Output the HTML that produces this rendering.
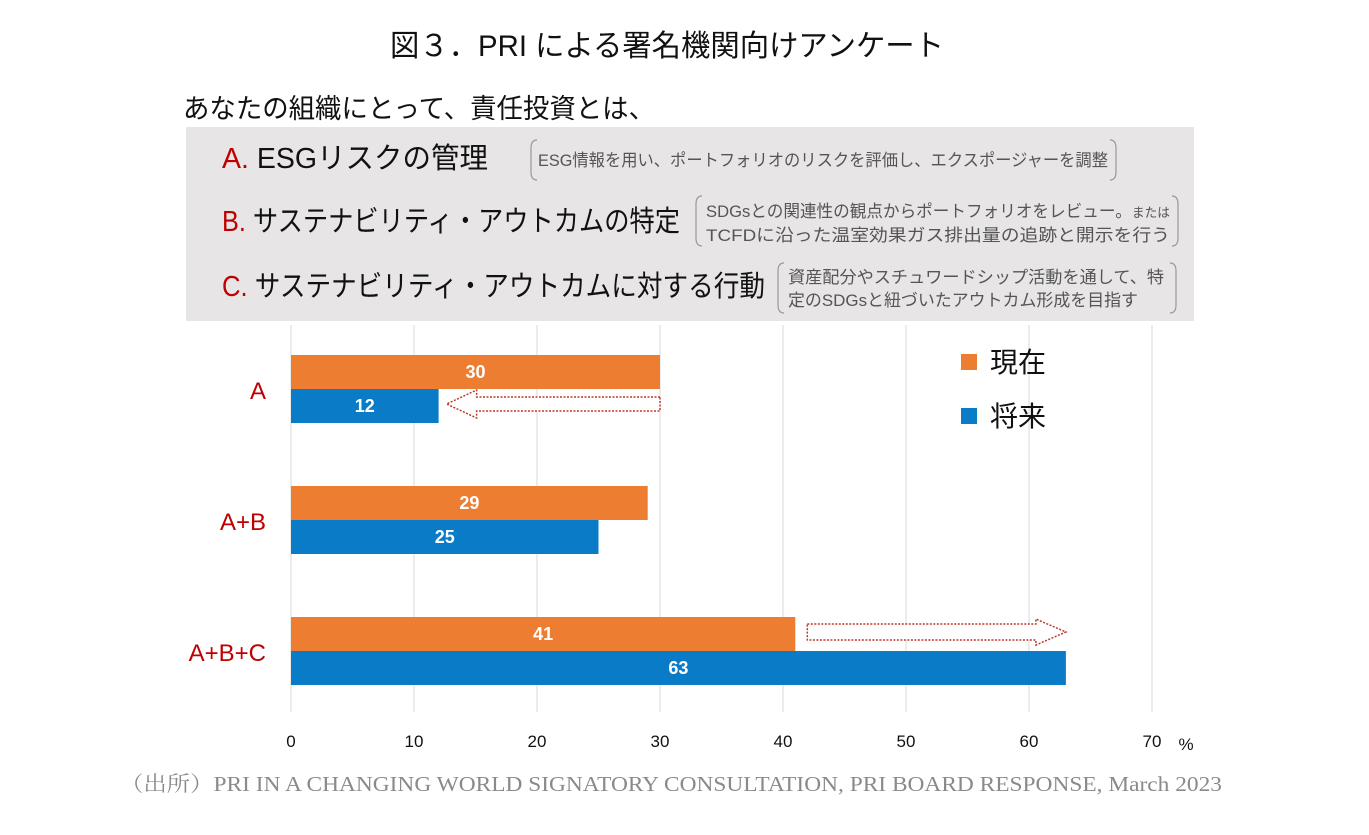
<!DOCTYPE html>
<html><head><meta charset="utf-8"><style>
body{margin:0;background:#fff;}
svg{display:block;font-family:"Liberation Sans","Noto Sans CJK JP",sans-serif;}
</style></head><body>
<svg width="1369" height="835" viewBox="0 0 1369 835">
<text x="390" y="56" font-size="30" textLength="554" lengthAdjust="spacingAndGlyphs" fill="#111">図３．PRI による署名機関向けアンケート</text>
<text x="183" y="118" font-size="27" textLength="472" lengthAdjust="spacingAndGlyphs" fill="#111">あなたの組織にとって、責任投資とは、</text>
<rect x="186" y="127" width="1008" height="194" fill="#e7e5e5"/>
<g font-size="29" fill="#111">
<text x="222" y="168" textLength="266" lengthAdjust="spacingAndGlyphs"><tspan fill="#c00000">A.</tspan> ESGリスクの管理</text>
<text x="222" y="231" textLength="458" lengthAdjust="spacingAndGlyphs"><tspan fill="#c00000">B.</tspan> サステナビリティ・アウトカムの特定</text>
<text x="222" y="296" textLength="543" lengthAdjust="spacingAndGlyphs"><tspan fill="#c00000">C.</tspan> サステナビリティ・アウトカムに対する行動</text>
</g>
<g fill="none" stroke="#999" stroke-width="1.2">
<path d="M537 140 q-6 0 -6 8 v24 q0 8 6 8"/><path d="M1110 140 q6 0 6 8 v24 q0 8 -6 8"/>
<path d="M702 196 q-6 0 -6 8 v34 q0 8 6 8"/><path d="M1172 196 q6 0 6 8 v34 q0 8 -6 8"/>
<path d="M784 263 q-6 0 -6 8 v34 q0 8 6 8"/><path d="M1170 263 q6 0 6 8 v34 q0 8 -6 8"/>
</g>
<g font-size="17" fill="#555">
<text x="538" y="166" textLength="570" lengthAdjust="spacingAndGlyphs">ESG情報を用い、ポートフォリオのリスクを評価し、エクスポージャーを調整</text>
<text x="706" y="217" textLength="464" lengthAdjust="spacingAndGlyphs">SDGsとの関連性の観点からポートフォリオをレビュー。<tspan font-size="13">または</tspan></text>
<text x="706" y="241" textLength="464" lengthAdjust="spacingAndGlyphs">TCFDに沿った温室効果ガス排出量の追跡と開示を行う</text>
<text x="788" y="283" textLength="376" lengthAdjust="spacingAndGlyphs">資産配分やスチュワードシップ活動を通して、特</text>
<text x="788" y="306" textLength="350" lengthAdjust="spacingAndGlyphs">定のSDGsと紐づいたアウトカム形成を目指す</text>
</g>
<g id="plot"></g>
<text x="120" y="791" font-size="21" fill="#8a8a8a" font-family="'Liberation Serif','Noto Serif CJK SC',serif" textLength="1102" lengthAdjust="spacingAndGlyphs">（出所）PRI IN A CHANGING WORLD SIGNATORY CONSULTATION, PRI BOARD RESPONSE, March 2023</text>
</svg>
<script>
const categories=["A","A+B","A+B+C"];
const currentValues=[30,29,41];
const futureValues=[12,25,63];
const ticks=[0,10,20,30,40,50,60,70];
const NS="http://www.w3.org/2000/svg";
const g=document.getElementById("plot");
const x0=291,x1=1152,vmax=70;
const xs=v=>x0+(x1-x0)*v/vmax;
const groupTop=[355,486,617];
const bh=34;
function mk(t,a,txt){const e=document.createElementNS(NS,t);for(const k in a)e.setAttribute(k,a[k]);if(txt!=null)e.textContent=txt;g.appendChild(e);return e;}
ticks.forEach(t=>{
  const l=mk("line",{x1:xs(t),x2:xs(t),y1:325,y2:712,stroke:"#d9d9d9","stroke-width":1});
  
  
  const tx=mk("text",{x:xs(t),y:747,"font-size":17,"text-anchor":"middle",fill:"#111"},t);
  
  
});
const pct=mk("text",{x:1186,y:750,"font-size":17,"text-anchor":"middle",fill:"#111"},"%");


categories.forEach((c,i)=>{
  const y=groupTop[i];
  const cl=mk("text",{x:266,y:y+bh+10,"font-size":24,"text-anchor":"end",fill:"#c00000"},c);
  
  
  [[currentValues[i],"#ed7d31",y],[futureValues[i],"#0a7cc7",y+bh]].forEach(([v,col,yy],k)=>{
    const r=mk("rect",{x:x0,y:yy,width:xs(v)-x0,height:bh,fill:col});
    
    
    const t=mk("text",{x:(x0+xs(v))/2,y:yy+bh/2+6,"font-size":18,"font-weight":"bold","text-anchor":"middle",fill:"#fff"},v);
    
    
  });
});
function arrow(xa,xb,yc,h,sh){
  const dir=Math.sign(xb-xa),head=Math.min(30,Math.abs(xb-xa)/3);
  const xh=xb-dir*head;
  const d=`M${xa} ${yc-sh} L${xh} ${yc-sh} L${xh} ${yc-h} L${xb} ${yc} L${xh} ${yc+h} L${xh} ${yc+sh} L${xa} ${yc+sh} Z`;
  const p=mk("path",{d:d,fill:"#fff",stroke:"#c0392b","stroke-width":1.5,"stroke-dasharray":"2 1.5"});
  
  
}
arrow(xs(currentValues[0]),xs(futureValues[0])+8,404,14,7);
arrow(xs(currentValues[2])+12,xs(futureValues[2]),632,13,8);
[["現在","#ed7d31",354],["将来","#0a7cc7",408]].forEach(([n,c,y],k)=>{
  const s=mk("rect",{x:961,y:y,width:16,height:16,fill:c});
  
  
  const t=mk("text",{x:990,y:y+18,"font-size":28,fill:"#111"},n);
  
  
});
</script>
</body></html>
